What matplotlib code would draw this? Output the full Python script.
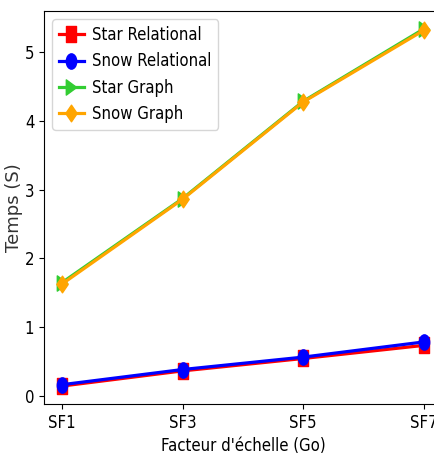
import matplotlib
matplotlib.use("Agg")
import matplotlib.pyplot as plt
from matplotlib.markers import MarkerStyle
from matplotlib.transforms import Affine2D

plt.rcParams['font.family'] = ['DejaVu Sans']
plt.rcParams['font.stretch'] = 'condensed'

scale_factors = ["SF1", "SF3", "SF5", "SF7"]
star_relational = [0.15, 0.37, 0.55, 0.74]
snow_relational = [0.17, 0.39, 0.57, 0.79]
star_graph = [1.65, 2.87, 4.28, 5.33]
snow_graph = [1.63, 2.86, 4.27, 5.31]


def narrow(m):
    # the original picture is squeezed sideways, so are its markers
    ms = MarkerStyle(m)
    path = ms.get_path().transformed(ms.get_transform())
    return path.transformed(Affine2D().scale(0.68, 1.0))


fig = plt.figure(figsize=(4.35, 4.59), dpi=100)
ax = fig.add_axes([0.101, 0.12, 0.915, 0.856])

ax.plot(scale_factors, star_relational, color='red', marker=narrow('s'), markersize=11, linewidth=2.3, label='Star Relational')
ax.plot(scale_factors, snow_relational, color='blue', marker=narrow('o'), markersize=11, linewidth=2.3, label='Snow Relational')
ax.plot(scale_factors, star_graph, color='limegreen', marker=narrow('>'), markersize=11, linewidth=2.3, label='Star Graph')
ax.plot(scale_factors, snow_graph, color='orange', marker=narrow('D'), markersize=12, linewidth=2.3, label='Snow Graph')

ax.set_xlabel("Facteur d'échelle (Go)", fontsize=12)
ax.set_ylabel('Temps (S)', fontsize=13, fontstretch='normal', color='#333333')
ax.yaxis.set_label_coords(-0.053, 0.5)
ax.tick_params(labelsize=12)
ax.legend(loc='upper left', fontsize=12, handlelength=1.5, handletextpad=0.5)

fig.savefig('out.png', dpi=100)
